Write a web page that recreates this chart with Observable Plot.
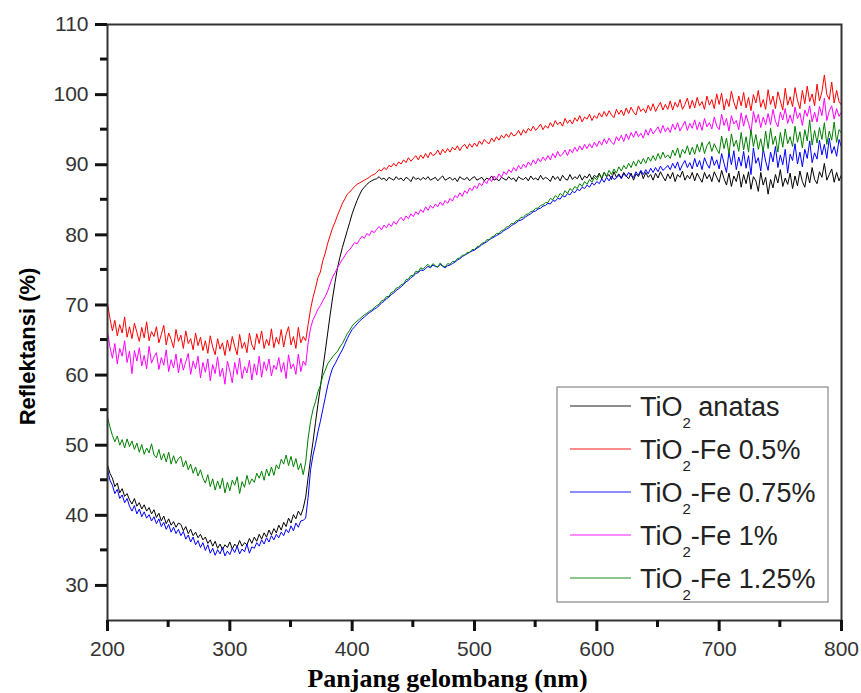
<!DOCTYPE html>
<html><head><meta charset="utf-8">
<script src="https://cdn.jsdelivr.net/npm/d3@7"></script>
<script src="https://cdn.jsdelivr.net/npm/@observablehq/plot@0.6"></script>
<style>html,body{margin:0;padding:0;background:#fff;} svg{display:block;}</style>
</head><body><div id="chart"></div>
<script>
// sampling grid of the spectra (nm), one value every 2 nm
const wavelength = d3.range(200, 801, 2);

const seriesNames = ["TiO2 anatas", "TiO2-Fe 0.5%", "TiO2-Fe 0.75%", "TiO2-Fe 1%", "TiO2-Fe 1.25%"];
const seriesColors = ["#000000", "#ff0000", "#0000ff", "#ff00ff", "#008000"];

const anatas = [
47.2,46.0,45.3,44.1,44.6,43.2,43.8,42.7,43.1,42.2,
41.6,42.4,41.3,41.8,40.9,41.5,40.6,41.1,40.2,40.8,
39.7,40.3,39.2,39.9,38.8,39.5,38.6,39.1,38.3,38.9,
38.7,37.8,38.4,37.4,38.0,37.1,37.6,36.8,37.3,36.5,
36.9,36.0,36.5,35.6,36.3,35.3,35.9,35.1,35.8,35.4,
36.2,35.2,35.9,35.5,36.4,35.6,36.1,35.8,36.7,36.0,
36.9,36.3,37.3,36.6,37.5,36.9,37.9,37.2,38.1,37.5,
38.6,37.9,39.0,38.4,39.6,38.9,40.1,39.5,40.6,40.0,
41.0,42.6,45.4,48.1,50.5,53.2,55.8,58.3,60.9,63.4,
66.0,68.6,71.0,73.2,75.3,76.8,78.2,79.4,80.6,81.8,
83.0,84.0,84.9,85.7,86.4,86.8,87.2,87.5,87.7,87.9,
88.0,88.3,87.9,88.1,87.7,88.2,88.0,87.8,88.3,87.9,
88.1,87.7,88.2,88.0,87.6,88.3,87.9,88.1,87.8,88.2,
87.9,88.3,87.8,88.0,88.2,87.7,88.1,88.4,87.8,88.0,
88.2,87.8,88.1,87.6,88.3,88.0,87.9,88.2,87.7,88.1,
88.3,87.8,88.0,88.2,87.7,88.1,87.9,88.4,87.8,88.0,
87.7,88.2,88.0,87.8,88.3,87.9,88.1,87.6,88.3,88.0,
87.9,88.2,87.7,88.4,87.9,88.1,87.8,88.5,87.9,88.2,
88.0,87.6,88.4,87.9,88.3,87.7,88.5,88.0,87.8,88.6,
87.9,88.3,88.0,88.6,87.8,88.4,88.1,88.7,87.9,88.5,
88.2,88.8,88.0,88.9,88.3,88.6,87.9,89.0,88.2,88.7,
88.1,88.9,88.4,88.0,88.8,87.8,88.7,88.3,89.1,88.0,
88.9,88.2,88.6,87.8,88.8,88.1,89.0,88.3,87.7,88.7,
88.0,88.9,87.6,88.6,88.2,89.1,87.8,88.5,88.0,88.9,
87.7,88.8,88.1,87.5,88.9,88.0,88.6,87.6,89.0,88.2,
87.5,89.2,88.0,87.1,88.8,86.9,88.4,87.6,89.1,86.8,
88.6,87.3,89.0,86.5,88.3,87.7,86.2,88.9,87.1,88.2,
85.8,87.9,86.7,88.6,87.4,89.3,86.9,88.1,87.2,88.8,
86.6,88.4,87.0,89.1,87.6,86.8,88.9,87.4,89.6,87.9,
87.3,89.0,88.2,90.2,87.8,88.6,89.4,87.5,88.9,87.7,
88.6];

const fe05 = [
70.2,68.1,66.3,67.8,65.6,67.2,66.0,68.3,65.4,66.9,
65.2,67.4,66.1,64.8,66.8,65.3,67.6,64.9,66.2,65.5,
66.9,64.6,65.8,67.1,64.3,66.0,65.1,63.9,66.5,64.8,
65.7,63.8,66.3,64.5,65.2,63.6,66.0,64.2,65.4,63.5,
64.9,63.1,65.6,64.0,62.9,65.2,63.7,64.6,62.8,65.0,
63.4,65.5,64.1,62.9,65.8,63.8,64.7,63.2,66.0,64.3,
63.6,65.9,64.5,66.3,63.8,65.1,64.2,66.6,63.9,65.4,
64.4,66.5,64.0,65.8,66.9,64.3,65.5,63.8,66.8,64.6,
65.5,64.9,67.2,69.4,71.1,72.4,73.9,74.7,76.3,77.4,
78.8,79.9,81.0,81.8,82.8,83.6,84.5,85.1,85.8,86.1,
86.5,86.9,87.2,87.4,87.6,87.8,88.0,88.2,88.5,88.6,
88.9,89.3,89.1,89.6,89.3,89.9,89.7,90.2,89.8,90.4,
90.1,90.7,90.3,91.0,90.5,90.9,91.3,90.7,91.4,90.9,
91.6,91.0,91.8,91.3,91.5,92.1,91.4,92.2,91.7,92.3,
91.8,92.5,92.1,92.7,92.0,92.6,92.9,92.3,93.0,92.5,
93.1,92.6,93.4,92.9,93.6,93.2,93.0,93.8,93.3,94.0,
93.5,94.2,93.8,94.4,93.9,94.6,94.1,94.3,94.9,94.2,
95.0,94.5,95.2,94.8,95.5,94.9,95.3,95.8,95.0,95.6,
95.2,96.0,95.4,96.3,95.7,96.1,95.5,96.6,95.9,96.4,
95.8,96.7,96.2,97.0,96.1,96.8,96.5,97.2,96.3,97.0,
96.6,97.4,96.8,97.6,96.9,97.7,97.1,96.7,97.9,97.2,
97.8,97.0,98.1,97.3,98.2,97.5,97.1,98.4,97.6,98.0,
97.4,98.5,97.7,98.7,97.6,98.3,98.9,97.8,98.6,97.9,
99.1,97.8,98.9,98.2,99.3,97.9,98.6,99.5,98.0,99.2,
98.1,99.6,98.4,99.0,97.9,99.8,98.5,99.3,98.0,100.1,
98.6,100.2,97.8,99.4,98.3,100.5,98.9,97.9,99.8,98.4,
100.3,98.1,99.6,97.7,100.0,98.8,100.6,98.2,99.3,97.9,
100.7,98.6,99.8,98.0,100.4,99.1,97.8,100.9,98.5,99.7,
98.3,101.0,99.2,98.0,100.6,98.7,101.2,99.0,100.1,98.4,
101.5,99.1,100.4,102.8,100.0,99.3,101.8,98.8,100.6,99.0,
98.5];

const fe075 = [
46.6,45.0,44.3,43.1,43.7,42.4,42.9,41.8,42.4,41.3,
40.6,41.4,40.2,40.9,39.8,40.5,39.6,40.1,39.2,39.8,
38.8,39.5,38.4,39.0,38.0,38.7,37.6,38.3,37.4,38.0,
37.1,37.7,36.6,37.2,36.2,36.9,35.8,36.4,35.4,36.1,
35.0,35.8,34.6,35.3,34.3,35.1,34.5,35.4,34.2,34.9,
34.4,35.3,34.7,35.6,34.5,35.2,34.8,35.9,34.6,35.5,
35.3,36.1,35.6,36.5,35.9,36.8,36.2,37.1,36.5,37.3,
36.8,37.6,37.1,38.0,37.5,38.5,37.8,38.9,38.3,39.2,
39.3,39.6,42.6,46.5,48.6,50.1,51.9,53.4,55.1,56.8,
58.5,59.9,61.0,61.6,62.3,63.0,63.6,64.4,65.2,65.9,
66.5,66.9,67.3,67.7,68.0,68.3,68.6,68.9,69.1,69.4,
69.6,69.9,70.3,70.5,70.9,71.1,71.5,71.7,72.1,72.3,
72.6,72.9,73.3,73.5,73.9,74.1,74.5,74.6,75.0,74.9,
75.2,75.5,75.3,75.7,75.5,75.4,75.8,75.5,75.3,75.6,
75.7,75.9,76.1,76.4,76.6,76.9,77.1,77.3,77.5,77.7,
77.8,78.1,78.3,78.6,78.8,79.0,79.3,79.5,79.7,79.9,
80.1,80.3,80.6,80.8,81.0,81.3,81.5,81.7,82.0,82.1,
82.3,82.6,82.8,83.0,83.3,83.4,83.7,83.8,84.1,84.2,
84.5,84.4,84.9,84.8,85.2,85.1,85.6,85.4,85.9,85.7,
86.2,86.0,86.5,86.3,86.8,86.6,87.1,86.8,87.4,87.1,
87.6,87.3,88.0,87.5,88.2,87.7,88.4,87.9,88.1,88.5,
88.0,88.7,88.3,88.9,88.4,88.2,89.0,88.5,89.2,88.6,
89.3,88.7,89.5,88.9,89.6,89.0,89.8,89.2,89.5,89.9,
89.3,90.2,89.5,90.4,89.2,90.0,90.6,89.6,90.3,89.4,
90.9,89.7,90.6,89.3,91.0,90.1,89.5,91.2,89.9,90.7,
89.4,91.6,90.2,88.9,91.8,90.0,92.0,89.3,91.1,89.8,
91.9,89.5,91.3,88.6,92.4,90.2,91.0,89.1,92.3,90.5,
89.2,91.8,90.4,92.6,89.6,91.4,90.0,92.2,88.8,91.5,
90.6,93.0,90.1,91.8,89.7,92.2,90.9,93.4,90.3,91.7,
90.8,93.5,91.4,92.9,90.9,93.8,91.6,92.6,91.2,93.6,
92.5];

const fe1 = [
66.2,64.0,62.4,64.5,61.6,63.8,62.7,64.9,61.8,63.4,
60.2,63.5,62.0,63.9,61.3,62.8,60.9,64.1,61.7,62.6,
63.2,60.8,62.5,61.4,63.6,60.5,62.2,61.0,63.0,60.3,
62.4,60.7,61.9,63.1,60.1,62.0,60.9,62.7,59.6,61.8,
60.4,62.3,59.2,61.5,60.2,62.6,59.8,61.0,58.7,62.0,
60.6,58.9,61.8,60.1,62.4,59.5,61.2,60.3,62.1,59.3,
61.6,60.0,62.7,59.7,61.9,60.6,62.3,59.9,61.4,60.8,
62.5,60.4,61.8,59.5,62.9,60.9,61.6,60.1,63.0,60.5,
62.0,61.4,64.6,66.7,67.9,68.6,69.4,69.9,70.6,71.2,
72.0,73.0,74.0,74.6,75.3,75.9,76.5,77.0,77.6,77.9,
78.4,78.9,78.7,79.3,79.8,79.5,80.2,79.9,80.6,80.3,
80.8,81.2,80.7,81.4,81.0,81.6,81.2,81.9,81.5,82.1,
82.5,82.0,82.7,82.3,83.0,82.6,83.3,82.9,83.6,83.2,
84.0,83.5,84.2,83.8,84.4,84.0,84.7,84.2,84.9,84.5,
85.2,84.8,85.6,85.3,86.0,85.5,86.3,85.9,86.7,86.3,
87.0,86.6,87.4,87.0,87.7,87.3,88.1,87.6,88.4,87.9,
88.7,88.2,89.0,88.6,89.3,88.9,89.6,89.1,89.9,89.4,
90.1,89.6,90.4,89.9,90.7,90.1,90.9,90.4,91.1,90.6,
91.3,90.7,91.6,91.0,91.9,91.2,91.5,92.1,91.3,92.2,
91.7,92.5,91.9,92.7,92.1,92.9,92.3,93.0,92.4,93.2,
92.6,93.4,92.8,93.7,93.0,93.8,93.2,92.9,94.0,93.4,
94.2,93.3,94.4,93.6,94.6,93.9,94.8,94.0,94.5,93.8,
95.0,94.2,95.2,94.4,94.9,95.4,94.5,95.6,94.7,95.3,
94.6,95.8,95.0,96.0,94.8,95.5,96.2,94.9,95.9,95.2,
96.4,95.0,96.1,94.9,96.6,95.4,96.0,95.1,96.8,95.5,
95.0,97.2,95.6,96.6,94.8,97.0,95.8,96.3,95.0,97.4,
95.5,97.1,95.9,94.6,97.6,96.0,97.2,95.3,96.8,95.7,
97.3,95.7,97.9,96.2,95.4,97.5,96.4,98.0,95.9,97.1,
95.9,98.2,96.6,97.4,95.6,97.8,96.9,98.4,96.1,97.5,
96.1,98.3,97.0,99.5,96.3,97.7,98.4,96.5,98.0,96.9,
97.5];

const fe125 = [
54.0,52.6,51.4,50.5,51.3,50.0,50.8,49.6,50.9,49.8,
50.6,49.4,50.3,49.0,50.1,48.7,49.6,48.9,50.2,48.6,
48.2,49.4,47.9,48.8,47.6,49.0,47.3,48.5,47.4,48.1,
48.4,46.9,47.8,46.5,47.3,46.0,46.9,45.6,46.5,45.3,
44.6,45.8,44.1,45.2,43.6,44.9,43.8,45.3,43.2,44.7,
43.5,45.0,44.3,45.5,43.1,44.8,44.0,45.7,44.4,45.2,
44.7,46.0,45.3,46.3,45.0,46.6,45.6,46.9,45.7,47.2,
46.6,48.0,47.3,48.6,47.1,48.4,46.9,48.1,46.5,47.4,
45.8,47.6,51.0,53.4,55.1,56.2,57.6,58.5,59.9,60.7,
61.6,62.1,62.6,63.0,63.4,64.0,64.5,65.2,65.9,66.4,
67.0,67.4,67.7,68.0,68.3,68.6,68.8,69.1,69.3,69.6,
69.9,70.1,70.6,70.7,71.2,71.2,71.8,71.9,72.4,72.5,
72.9,73.0,73.6,73.7,74.2,74.2,74.8,74.7,75.3,75.1,
75.5,75.8,75.4,75.9,75.6,75.4,76.0,75.6,75.4,75.9,
75.8,76.2,76.2,76.6,76.7,77.1,77.1,77.5,77.5,77.9,
77.9,78.3,78.4,78.8,78.9,79.3,79.3,79.7,79.8,80.2,
80.2,80.6,80.7,81.1,81.2,81.6,81.6,82.0,82.1,82.5,
82.5,82.9,83.0,83.3,83.4,83.8,83.8,84.2,84.3,84.6,
84.6,85.2,85.0,85.6,85.3,85.9,85.6,86.3,85.9,86.6,
86.3,86.9,86.6,87.3,86.9,87.6,87.2,87.9,87.5,88.2,
87.8,88.6,88.1,88.9,88.4,89.2,88.6,89.4,88.8,89.7,
89.1,89.9,89.4,90.2,89.6,90.5,89.8,90.7,90.1,90.9,
90.2,91.1,90.5,91.3,90.6,91.6,90.8,91.8,91.0,91.4,
90.9,92.1,91.3,92.4,91.0,92.2,91.6,92.7,91.4,92.5,
91.5,92.9,91.8,93.2,91.6,92.7,93.3,91.9,93.0,92.2,
91.6,94.1,92.3,93.8,91.5,94.4,92.6,93.5,91.9,94.6,
92.1,94.0,91.8,95.0,92.6,94.3,92.2,93.7,91.9,94.8,
92.3,95.2,92.9,94.1,91.8,94.6,92.5,95.1,93.0,94.0,
92.6,95.5,93.2,94.7,92.4,95.0,93.4,96.4,92.8,94.9,
93.1,95.3,93.6,96.0,92.9,94.8,93.5,96.1,93.2,95.0,
94.5];

const xTicks = [200, 300, 400, 500, 600, 700, 800];
const xMinorTicks = [250, 350, 450, 550, 650, 750];
const yTicks = [30, 40, 50, 60, 70, 80, 90, 100, 110];
const yMinorTicks = [35, 45, 55, 65, 75, 85, 95, 105];

const xLabel = "Panjang gelombang (nm)";
const yLabel = "Reflektansi (%)";

const allSeries = [anatas, fe05, fe075, fe1, fe125];
const rows = allSeries.flatMap((vals, s) =>
  vals.map((v, i) => ({nm: wavelength[i], r: v, series: seriesNames[s]})));

const axisColor = "#111";

const plot = Plot.plot({
  width: 861,
  height: 693,
  marginLeft: 107,
  marginRight: 20,
  marginTop: 24,
  marginBottom: 73,
  style: {fontFamily: "'Liberation Sans', Arial, sans-serif", background: "#fff"},
  x: {domain: [200, 800]},
  y: {domain: [25, 110]},
  color: {domain: seriesNames, range: seriesColors},
  marks: [
    Plot.line(rows, {x: "nm", y: "r", z: "series", stroke: "series", strokeWidth: 1}),
    Plot.frame({stroke: "#333", strokeWidth: 2}),
    Plot.axisX(xTicks, {tickSize: 11, tickPadding: 10, fontSize: 21, label: null,
      stroke: axisColor, fill: "#333", strokeWidth: 3}),
    Plot.axisY(yTicks, {tickSize: 12, tickPadding: 7, fontSize: 21, label: null,
      stroke: axisColor, fill: "#333", strokeWidth: 3}),
    Plot.text([xLabel], {frameAnchor: "bottom", lineAnchor: "bottom", dx: -27, dy: 66, fontSize: 26, fontWeight: "bold",
      fontFamily: "'Liberation Serif', 'Times New Roman', serif", fill: "#000"}),
    Plot.text([yLabel], {frameAnchor: "left", textAnchor: "middle", dx: -80, dy: 24, rotate: -90, fontSize: 22,
      fontWeight: "bold", fill: "#000"})
  ]
});

document.getElementById("chart").appendChild(plot);

const svg = d3.select(plot);
const xs = plot.scale("x");
const ys = plot.scale("y");

// minor outward tick marks, positioned with the plot's own scales
const tg = svg.append("g").attr("fill", axisColor);
const yBase = ys.apply(25);
const xBase = xs.apply(200);
xMinorTicks.forEach(v => tg.append("rect").attr("x", xs.apply(v) - 1.5).attr("y", yBase).attr("width", 3).attr("height", 7));
yMinorTicks.forEach(v => tg.append("rect").attr("x", xBase - 7).attr("y", ys.apply(v) - 1.5).attr("width", 7).attr("height", 3));

// legend
const lg = svg.append("g");
lg.append("rect").attr("x", 557).attr("y", 387).attr("width", 271).attr("height", 215)
  .attr("fill", "#fff").attr("stroke", "#888").attr("stroke-width", 1.2);
seriesNames.forEach((name, k) => {
  const y = 406 + 43 * k;
  lg.append("line").attr("x1", 570).attr("x2", 631).attr("y1", y).attr("y2", y)
    .attr("stroke", seriesColors[k]).attr("stroke-opacity", 0.6).attr("stroke-width", 1.5);
  const t = lg.append("text").attr("x", 640).attr("y", y + 10)
    .attr("text-anchor", "start")
    .attr("font-size", 27).attr("fill", "#222")
    .attr("font-family", "'Liberation Sans', Arial, sans-serif");
  const rest = name.slice(4);
  t.append("tspan").text("TiO");
  t.append("tspan").attr("font-size", 15).attr("dy", 12).text("2");
  t.append("tspan").attr("dy", -12).text(rest);
});
</script>
</body></html>
